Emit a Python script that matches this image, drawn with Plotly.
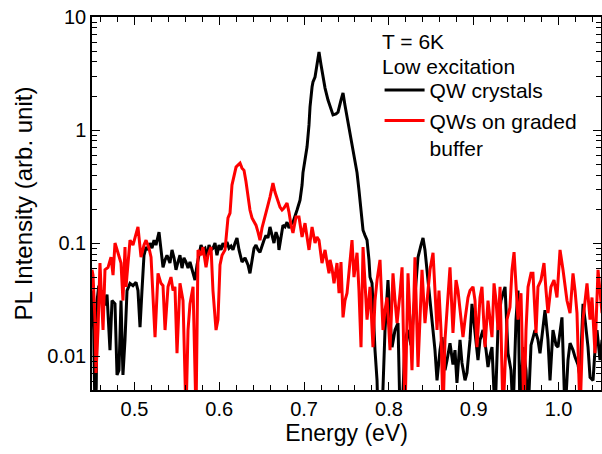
import plotly.graph_objects as go

# QW crystals (black)
qw_energy = [0.450, 0.452, 0.4535, 0.455, 0.456, 0.458, 0.4606, 0.463, 0.4653, 0.4677,
             0.4712, 0.4736, 0.4771, 0.4795, 0.4818, 0.4842, 0.4865, 0.4889, 0.4913, 0.4948,
             0.4983, 0.5019, 0.5042, 0.5066, 0.5089, 0.5113, 0.5137, 0.516, 0.5184, 0.5207,
             0.5231, 0.5254, 0.529, 0.5313, 0.5337, 0.5361, 0.5384, 0.5419, 0.5443, 0.5467,
             0.549, 0.5514, 0.5537, 0.5561, 0.5584, 0.5608, 0.5632, 0.5655, 0.5679, 0.5714,
             0.5738, 0.5761, 0.5785, 0.5808, 0.5832, 0.5856, 0.5879, 0.5903, 0.5926, 0.595,
             0.5973, 0.5997, 0.6021, 0.6044, 0.6068, 0.6091, 0.6115, 0.6139, 0.6162, 0.6186,
             0.6209, 0.6233, 0.6268, 0.6304, 0.6339, 0.6362, 0.6386, 0.641, 0.6433, 0.6457,
             0.648, 0.6504, 0.6527, 0.6551, 0.6574, 0.6598, 0.6622, 0.6645, 0.6669, 0.6692,
             0.6704, 0.6728, 0.6751, 0.6775, 0.6799, 0.6822, 0.6846, 0.6869, 0.6893, 0.6917,
             0.6952, 0.6976, 0.6987, 0.7011, 0.7035, 0.7058, 0.707, 0.7094, 0.7105, 0.7129,
             0.7152, 0.7176, 0.72, 0.7223, 0.7247, 0.7282, 0.7317, 0.7341, 0.7376, 0.74,
             0.7435, 0.7459, 0.7482, 0.7518, 0.7553, 0.7577, 0.76, 0.7624, 0.7647, 0.7659,
             0.7683, 0.7695, 0.7718, 0.7742, 0.7765, 0.7777, 0.7801, 0.7812, 0.7836, 0.786,
             0.7871, 0.7895, 0.7919, 0.7954, 0.7989, 0.8013, 0.8037, 0.8072, 0.8107, 0.8131,
             0.8155, 0.819, 0.8225, 0.826, 0.8284, 0.8319, 0.8343, 0.8378, 0.8402, 0.8425,
             0.8449, 0.8484, 0.8508, 0.8543, 0.8567, 0.8602, 0.8626, 0.8661, 0.8685, 0.872,
             0.8755, 0.8779, 0.8802, 0.8838, 0.8861, 0.8897, 0.892, 0.8956, 0.8979, 0.9015,
             0.905, 0.9074, 0.9109, 0.9145, 0.9168, 0.9192, 0.9215, 0.9251, 0.9286, 0.9321,
             0.9345, 0.9369, 0.9404, 0.9439, 0.9463, 0.9498, 0.9522, 0.9545, 0.9581, 0.9616,
             0.964, 0.9675, 0.9722, 0.9757, 0.9781, 0.9816, 0.984, 0.9875, 0.9899, 0.9934,
             0.997, 0.9993, 1.0017, 1.004, 1.0076, 1.0111, 1.0135, 1.017, 1.0194, 1.0229,
             1.0253, 1.0288, 1.0312, 1.0347, 1.0371, 1.0406, 1.0429, 1.0453, 1.0488, 1.0512]
qw_intensity = [0.038, 0.017, 0.003, 0.0053, 0.031, 0.042, 0.031, 0.038, 0.028, 0.035,
                0.0113, 0.031, 0.029, 0.0068, 0.0075, 0.031, 0.0068, 0.0139, 0.038, 0.044,
                0.042, 0.045, 0.038, 0.018, 0.038, 0.078, 0.092, 0.087, 0.100, 0.090,
                0.106, 0.096, 0.125, 0.087, 0.061, 0.071, 0.078, 0.0665, 0.087, 0.074,
                0.058, 0.068, 0.078, 0.060, 0.074, 0.068, 0.060, 0.068, 0.058, 0.047,
                0.064, 0.078, 0.096, 0.087, 0.090, 0.074, 0.096, 0.087, 0.090, 0.100,
                0.078, 0.096, 0.087, 0.100, 0.092, 0.102, 0.090, 0.094, 0.087, 0.100,
                0.111, 0.087, 0.068, 0.074, 0.064, 0.054, 0.068, 0.090, 0.096, 0.087,
                0.083, 0.096, 0.106, 0.117, 0.111, 0.139, 0.117, 0.100, 0.125, 0.111,
                0.087, 0.117, 0.144, 0.139, 0.153, 0.136, 0.147, 0.153, 0.170, 0.196,
                0.240, 0.326, 0.42, 0.54, 0.71, 1.11, 1.60, 2.40, 2.66, 2.94,
                3.76, 4.9, 3.76, 2.94, 2.35, 1.84, 1.50, 1.36, 1.39, 1.44,
                1.84, 2.13, 1.66, 1.15, 0.85, 0.665, 0.54, 0.42, 0.294, 0.240,
                0.177, 0.130, 0.117, 0.106, 0.071, 0.050, 0.044, 0.0255, 0.0113, 0.0061,
                0.003, 0.003, 0.003, 0.017, 0.047, 0.021, 0.012, 0.017, 0.0196, 0.003,
                0.003, 0.0139, 0.017, 0.0125, 0.021, 0.038, 0.075, 0.096, 0.111, 0.087,
                0.058, 0.031, 0.021, 0.0113, 0.0061, 0.0113, 0.0147, 0.0075, 0.0092, 0.013,
                0.0084, 0.0113, 0.0058, 0.0139, 0.0087, 0.0061, 0.0071, 0.0139, 0.029, 0.017,
                0.0092, 0.0139, 0.017, 0.0113, 0.008, 0.0102, 0.012, 0.003, 0.018, 0.031,
                0.035, 0.041, 0.0106, 0.0075, 0.003, 0.021, 0.038, 0.003, 0.012, 0.0075,
                0.003, 0.0125, 0.017, 0.0139, 0.0106, 0.017, 0.0255, 0.0139, 0.0061, 0.017,
                0.0125, 0.012, 0.017, 0.022, 0.003, 0.0092, 0.013, 0.0113, 0.0098, 0.0084,
                0.0065, 0.029, 0.021, 0.012, 0.0065, 0.0061, 0.0113, 0.017, 0.0092, 0.0139]

# QWs on graded buffer (red)
gb_energy = [0.450, 0.4512, 0.4535, 0.4547, 0.4571, 0.4594, 0.463, 0.4653, 0.4689, 0.4724,
             0.4748, 0.4771, 0.4806, 0.4842, 0.4865, 0.4889, 0.4901, 0.4924, 0.4948, 0.4983,
             0.5007, 0.5042, 0.5078, 0.5113, 0.5137, 0.5172, 0.5196, 0.5219, 0.5243, 0.5278,
             0.5313, 0.5337, 0.5361, 0.5396, 0.5431, 0.5455, 0.5478, 0.5502, 0.5537, 0.5573,
             0.5608, 0.5632, 0.5655, 0.5691, 0.5714, 0.5726, 0.575, 0.5785, 0.5808, 0.5844,
             0.5867, 0.5903, 0.5926, 0.5962, 0.5985, 0.6009, 0.6033, 0.6068, 0.6103, 0.6127,
             0.615, 0.6174, 0.6198, 0.6221, 0.6245, 0.6268, 0.6292, 0.6315, 0.6339, 0.6362,
             0.6386, 0.641, 0.6433, 0.6457, 0.648, 0.6504, 0.6527, 0.6551, 0.6574, 0.6598,
             0.6622, 0.6633, 0.6657, 0.668, 0.6716, 0.674, 0.6763, 0.6799, 0.6822, 0.6846,
             0.6869, 0.6905, 0.694, 0.6976, 0.7011, 0.7035, 0.7058, 0.7094, 0.7129, 0.7152,
             0.7176, 0.7211, 0.7247, 0.727, 0.7294, 0.7306, 0.7329, 0.7353, 0.7388, 0.7412,
             0.7435, 0.7459, 0.7482, 0.7506, 0.753, 0.7565, 0.7588, 0.7624, 0.7647, 0.7671,
             0.7695, 0.7718, 0.7742, 0.7777, 0.7812, 0.7836, 0.786, 0.7895, 0.793, 0.7954,
             0.7978, 0.8013, 0.8048, 0.8072, 0.8096, 0.8131, 0.8155, 0.819, 0.8225, 0.8249,
             0.8272, 0.8307, 0.8343, 0.8366, 0.839, 0.8425, 0.8461, 0.8484, 0.852, 0.8543,
             0.8567, 0.859, 0.8614, 0.8638, 0.8661, 0.8685, 0.872, 0.8755, 0.8791, 0.8814,
             0.8838, 0.8873, 0.8897, 0.8932, 0.8956, 0.8991, 0.9015, 0.9038, 0.9074, 0.9097,
             0.9133, 0.9168, 0.9192, 0.9215, 0.9239, 0.9263, 0.9286, 0.931, 0.9345, 0.9369,
             0.9392, 0.9427, 0.9451, 0.9475, 0.9498, 0.9522, 0.9557, 0.9592, 0.9616, 0.964,
             0.9675, 0.9698, 0.9734, 0.9757, 0.9793, 0.9828, 0.9852, 0.9875, 0.991, 0.9946,
             0.9981, 1.0017, 1.0052, 1.0076, 1.0099, 1.0135, 1.017, 1.0194, 1.0217, 1.0253,
             1.0288, 1.0335, 1.0371, 1.0394, 1.0429, 1.0465, 1.0512]
gb_intensity = [0.058, 0.052, 0.021, 0.0071, 0.017, 0.0665, 0.017, 0.058, 0.061, 0.075,
                0.052, 0.100, 0.082, 0.0665, 0.031, 0.092, 0.041, 0.071, 0.106, 0.096,
                0.113, 0.139, 0.075, 0.096, 0.106, 0.090, 0.075, 0.031, 0.0147, 0.054,
                0.044, 0.042, 0.017, 0.041, 0.050, 0.038, 0.041, 0.0106, 0.044, 0.031,
                0.003, 0.017, 0.029, 0.041, 0.003, 0.003, 0.087, 0.078, 0.092, 0.061,
                0.078, 0.092, 0.038, 0.017, 0.021, 0.064, 0.078, 0.087, 0.167, 0.184,
                0.326, 0.40, 0.47, 0.49, 0.51, 0.46, 0.44, 0.35, 0.266, 0.196,
                0.167, 0.153, 0.144, 0.125, 0.106, 0.136, 0.160, 0.196, 0.217, 0.255,
                0.307, 0.34, 0.283, 0.25, 0.208, 0.196, 0.204, 0.226, 0.188, 0.144,
                0.123, 0.170, 0.170, 0.113, 0.150, 0.113, 0.087, 0.139, 0.100, 0.113,
                0.106, 0.0665, 0.087, 0.068, 0.054, 0.071, 0.060, 0.044, 0.0665, 0.036,
                0.068, 0.022, 0.031, 0.036, 0.058, 0.106, 0.050, 0.082, 0.038, 0.012,
                0.092, 0.047, 0.021, 0.041, 0.012, 0.031, 0.047, 0.071, 0.017, 0.0255,
                0.033, 0.0113, 0.054, 0.031, 0.0196, 0.036, 0.061, 0.003, 0.054, 0.021,
                0.0075, 0.075, 0.008, 0.021, 0.058, 0.0196, 0.038, 0.058, 0.082, 0.038,
                0.017, 0.038, 0.017, 0.003, 0.0139, 0.0255, 0.061, 0.016, 0.047, 0.038,
                0.0255, 0.0147, 0.021, 0.033, 0.038, 0.041, 0.031, 0.012, 0.033, 0.041,
                0.012, 0.031, 0.021, 0.0147, 0.044, 0.031, 0.017, 0.041, 0.003, 0.0092,
                0.021, 0.027, 0.058, 0.083, 0.047, 0.021, 0.036, 0.003, 0.017, 0.041,
                0.054, 0.054, 0.016, 0.041, 0.047, 0.0665, 0.038, 0.024, 0.041, 0.047,
                0.033, 0.087, 0.058, 0.042, 0.031, 0.024, 0.054, 0.038, 0.024, 0.003,
                0.021, 0.044, 0.021, 0.033, 0.0106, 0.058, 0.024]

y_tick_vals = [0.01, 0.1, 1, 10]
y_tick_text = ["0.01", "0.1", "1", "10"]
x_tick_vals = [0.5, 0.6, 0.7, 0.8, 0.9, 1.0]
x_tick_text = ["0.5", "0.6", "0.7", "0.8", "0.9", "1.0"]
note_lines = ["T = 6K", "Low excitation"]

FONT = "Arial, 'Liberation Sans', sans-serif"

fig = go.Figure()
fig.add_trace(go.Scatter(x=qw_energy, y=qw_intensity, mode="lines", name="QW crystals",
                         line=dict(color="#000000", width=3)))
fig.add_trace(go.Scatter(x=gb_energy, y=gb_intensity, mode="lines", name="QWs on graded<br>buffer",
                         line=dict(color="#FF0000", width=3)))

axis_common = dict(showline=True, linecolor="black", linewidth=1.5, mirror="allticks",
                   ticks="inside", ticklen=8, tickwidth=1.2, tickcolor="black",
                   showgrid=False, zeroline=False,
                   tickfont=dict(family=FONT, size=20, color="black"))

fig.update_xaxes(range=[0.45, 1.05], tickvals=x_tick_vals, ticktext=x_tick_text,
                 minor=dict(ticks="inside", ticklen=5, dtick=0.02, tick0=0.5, tickcolor="black", tickwidth=1),
                 title=dict(text="Energy (eV)", font=dict(family=FONT, size=23, color="black"), standoff=6),
                 **axis_common)
fig.update_yaxes(type="log", range=[-2.3, 1.0], tickvals=y_tick_vals, ticktext=y_tick_text,
                 minor=dict(ticks="inside", ticklen=5, dtick="D1", tickcolor="black", tickwidth=1),
                 title=dict(text="PL Intensity (arb. unit)", font=dict(family=FONT, size=24, color="black"), standoff=8),
                 **axis_common)

for i, txt in enumerate(note_lines):
    fig.add_annotation(text=txt, xref="paper", yref="paper", x=0.566, y=0.935 - i * 0.068,
                       xanchor="left", yanchor="middle", showarrow=False,
                       font=dict(family=FONT, size=21, color="black"))

fig.update_layout(
    width=602, height=454,
    margin=dict(l=92, r=1, t=17, b=64, autoexpand=False),
    paper_bgcolor="white", plot_bgcolor="white",
    font=dict(family=FONT, color="black"),
    showlegend=True,
    legend=dict(x=0.565, y=0.858, xanchor="left", yanchor="top",
                bgcolor="rgba(0,0,0,0)", borderwidth=0,
                font=dict(family=FONT, size=21, color="black"),
                valign="top", tracegroupgap=0, itemwidth=40),
)

fig.write_html("out.html")
